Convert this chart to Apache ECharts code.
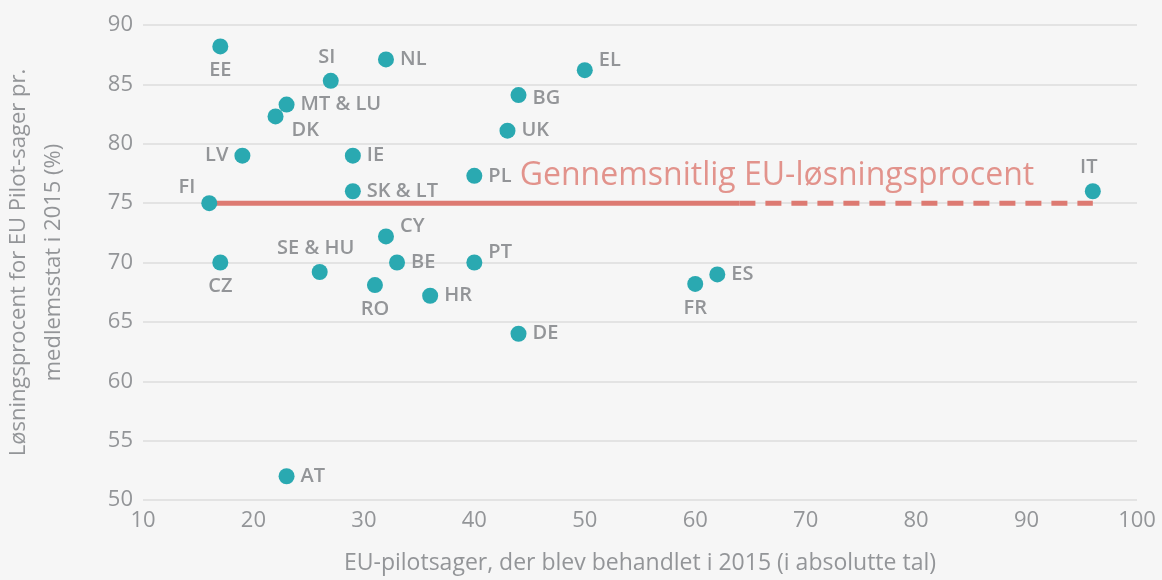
<!DOCTYPE html>
<html>
<head>
<meta charset="utf-8">
<script src="https://cdn.jsdelivr.net/npm/echarts@6/dist/echarts.min.js"></script>
<style>
html, body { margin: 0; padding: 0; background: #f6f6f6; }
#chart { width: 1162px; height: 580px; }
</style>
</head>
<body>
<div id="chart"></div>
<script>
// member states, cases handled (x) and resolution rate (y)
var countries = ['EE', 'SI', 'NL', 'MT & LU', 'DK', 'LV', 'IE', 'FI', 'SK & LT', 'CY', 'CZ', 'SE & HU',
  'BE', 'RO', 'HR', 'PT', 'DE', 'PL', 'UK', 'BG', 'EL', 'FR', 'ES', 'IT', 'AT'];
var cases = [17, 27, 32, 23, 22, 19, 29, 16, 29, 32, 17, 26, 33, 31, 36, 40, 44, 40, 43, 44, 50, 60, 62, 96, 23];
var rates = [88.2, 85.3, 87.1, 83.3, 82.3, 79, 79, 75, 76, 72.2, 70, 69.2, 70, 68.1, 67.2, 70, 64, 77.3, 81.1, 84.1, 86.2, 68.2, 69, 76, 52];
// where each country label sits
var labelPos = ['bottom', 'top', 'right', 'right', 'br', 'left', 'right', 'tl', 'right', 'tr', 'bottom', 'top',
  'right', 'bottom', 'right', 'tr', 'right', 'right', 'right', 'rb', 'tr', 'bottom', 'right', 'top', 'right'];

var avgRate = 75;
var avgSolid = [16, 64];
var avgDashed = [64, 96];
var avgText = 'Gennemsnitlig EU-løsningsprocent';

var xTitle = 'EU-pilotsager, der blev behandlet i 2015 (i absolutte tal)';
var yTitle = 'Løsningsprocent for EU Pilot-sager pr.\nmedlemsstat i 2015 (%)';

var teal = '#2aa9b1';
var red = '#dd7a72';
var grey = '#939598';
var font = 'Open Sans';

function labelFor(p) {
  var l = { show: true };
  if (p === 'br') { l.position = 'right'; l.offset = [2, 14]; }
  else if (p === 'rb') { l.position = 'right'; l.offset = [0, 3]; }
  else if (p === 'tl') { l.position = 'left'; l.offset = [0, -16]; }
  else if (p === 'tr') { l.position = 'right'; l.offset = [0, -10]; }
  else if (p === 'top') { l.position = 'top'; l.offset = [-4, 0]; }
  else { l.position = p; }
  return l;
}

var points = countries.map(function (c, i) {
  return { name: c, value: [cases[i], rates[i]], label: labelFor(labelPos[i]) };
});

var chart = echarts.init(document.getElementById('chart'));
chart.setOption({
  backgroundColor: '#f6f6f6',
  textStyle: { fontFamily: font },
  grid: { left: 143, right: 25, top: 25, bottom: 80, outerBoundsMode: 'none' },
  xAxis: {
    type: 'value', min: 10, max: 100, interval: 10,
    name: xTitle, nameLocation: 'middle', nameGap: 52,
    nameTextStyle: { color: grey, fontSize: 23, fontFamily: font },
    axisLine: { show: false }, axisTick: { show: false }, splitLine: { show: false },
    axisLabel: { color: grey, fontSize: 22, margin: 10 }
  },
  yAxis: {
    type: 'value', min: 50, max: 90, interval: 5,
    name: yTitle, nameLocation: 'middle', nameGap: 72, nameRotate: 90,
    nameTextStyle: { color: grey, fontSize: 22, fontFamily: font, lineHeight: 35 },
    axisLine: { show: false }, axisTick: { show: false },
    splitLine: { lineStyle: { color: '#dcdcdc', width: 1.5 } },
    axisLabel: { color: grey, fontSize: 22, margin: 10 }
  },
  series: [
    {
      type: 'line', data: [[avgSolid[0], avgRate], [avgSolid[1], avgRate]],
      symbol: 'none', lineStyle: { color: red, width: 5 }, z: 1
    },
    {
      type: 'line', data: [[avgDashed[0], avgRate], [avgDashed[1], avgRate]],
      symbol: 'none', lineStyle: { color: red, width: 5, type: [16, 10] }, z: 1
    },
    {
      type: 'scatter', data: [{ value: [67.4, 77.3] }], symbolSize: 0, silent: true,
      label: { show: true, position: 'inside', formatter: avgText, color: red, fontSize: 32, fontFamily: font, fontWeight: 500 }
    },
    {
      type: 'scatter', data: points, symbolSize: 16, z: 3,
      itemStyle: { color: teal, opacity: 1 },
      label: { formatter: '{b}', color: grey, fontSize: 20, fontFamily: font, fontWeight: 600, distance: 6 }
    }
  ]
});
</script>
</body>
</html>
